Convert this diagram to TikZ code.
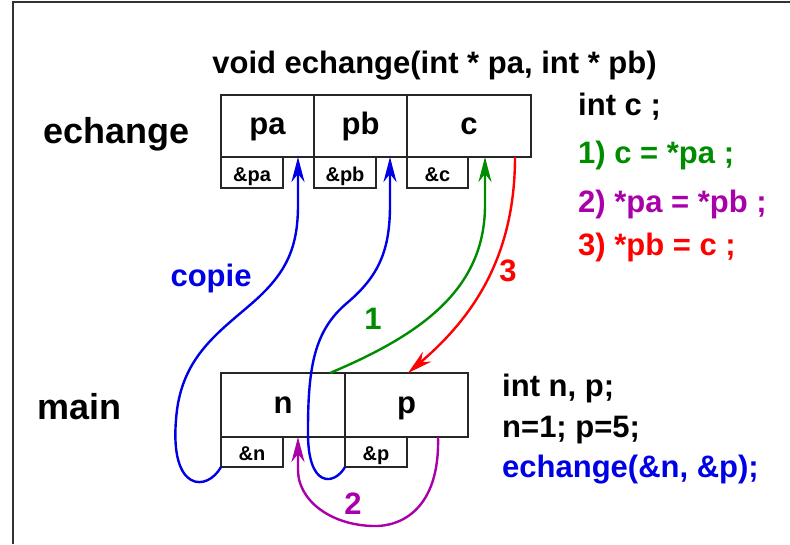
\documentclass[tikz,border=0pt]{standalone}
\usepackage{fontspec}
\setmainfont{Liberation Sans}
\usetikzlibrary{arrows.meta,calc}
\definecolor{cblue}{RGB}{0,0,230}
\definecolor{cgreen}{RGB}{0,140,0}
\definecolor{cpurple}{RGB}{170,0,170}
\definecolor{cred}{RGB}{255,0,0}
\definecolor{cframe}{RGB}{50,50,50}
\begin{document}
\begin{tikzpicture}[x=1pt,y=1pt,
  big/.style={draw=black!85, line width=1.1pt, inner sep=0pt, outer sep=0pt,
    minimum height=62pt, text height=22pt, text depth=6pt,
    font=\fontsize{31}{36}\selectfont\bfseries},
  small/.style={draw=black!85, line width=1.1pt, inner sep=0pt, outer sep=0pt,
    minimum height=31pt, minimum width=62pt, text height=20pt, text depth=3pt,
    font=\fontsize{20}{24}\selectfont\bfseries},
  code/.style={anchor=base west, inner sep=0pt, font=\fontsize{31}{36}\selectfont\bfseries},
  lbl/.style={anchor=base west, inner sep=0pt, font=\fontsize{36}{40}\selectfont\bfseries},
  tag/.style={anchor=base, inner sep=0pt, font=\fontsize{31}{36}\selectfont\bfseries},
  conn/.style={line width=2.4pt, -{Stealth[length=25pt,width=13pt,inset=8pt]}},
]
\useasboundingbox (0,0) rectangle (790,-544);
\draw[line width=1.2pt, cframe] (790,-2) -- (13,-2) -- (13,-544);

% echange frame
\node[big, minimum width=93pt] (pa) at (267.5,-126) {pa};
\node[big, minimum width=93pt] (pb) at (360.5,-126) {pb};
\node[big, minimum width=124pt] (c) at (469,-126) {c};
\node[small] (apa) at (252,-172.5) {\&pa};
\node[small] (apb) at (345,-172.5) {\&pb};
\node[small, minimum width=61pt] (ac) at (437.5,-172.5) {\&c};

% main frame
\node[big, minimum width=124pt, minimum height=64pt] (n) at (283,-405) {n};
\node[big, minimum width=123pt, minimum height=64pt] (p) at (406.5,-405) {p};
\node[small, minimum height=30pt] (an) at (252,-452) {\&n};
\node[small, minimum height=30pt] (ap) at (376,-452) {\&p};

% texts
\node[tag] (sig) at (434.5,-73) {void echange(int * pa, int * pb)};
\node[lbl] (lech) at (43,-143) {echange};
\node[lbl] (lmain) at (37,-419) {main};
\node[code] (intc) at (578,-115) {int c ;};
\node[code, text=cgreen] (s1) at (578,-163) {1) c = *pa ;};
\node[code, text=cpurple] (s2) at (578,-212) {2) *pa = *pb ;};
\node[code, text=cred] (s3) at (578,-255) {3) *pb = c ;};
\node[code] (m1) at (502,-396) {int n, p;};
\node[code] (m2) at (502,-437) {n=1; p=5;};
\node[code, text=cblue] (m3) at (502,-477) {echange(\&n, \&p);};

% connector ends
\coordinate (tpa) at ($(pa.south east)+(-16,0)$);
\coordinate (tpb) at ($(pb.south east)+(-17,0)$);
\coordinate (tc) at ($(c.south)+(16,0)$);
\coordinate (sc) at ($(c.south east)+(-16,0)$);
\coordinate (sn) at ($(n.north)+(47,0)$);
\coordinate (tp) at ($(p.north)+(1.5,0)$);
\coordinate (sp) at ($(p.south)+(31.5,0)$);
\coordinate (tn) at ($(n.south)+(15,0)$);

% connectors
\draw[conn, cblue] (an.south west) .. controls (207,-492) and (170,-492) .. (176,-420)
  .. controls (180,-360) and (215,-335) .. (250,-305)
  .. controls (285,-275) and (298,-250) .. (298,-205) -- (tpa);
\draw[conn, cblue] (ap.south west) .. controls (335,-485) and (307,-490) .. (308,-430)
  .. controls (308,-365) and (315,-330) .. (347,-303)
  .. controls (379,-276) and (390,-250) .. (390,-205) -- (tpb);
\draw[conn, cgreen] (sn) .. controls (420,-335) and (485,-290) .. (485,-205) -- (tc);
\draw[conn, cred] (sc) .. controls (515,-260) and (470,-320) .. (tp);
\draw[conn, cpurple] (sp) .. controls (440,-510) and (400,-527) .. (373,-526)
  .. controls (330,-525) and (298,-500) .. (298,-470) -- (tn);

% connector labels
\node[tag, text=cblue] (lcopie) at (211,-286) {copie};
\node[tag, text=cgreen] (l1) at (373,-329) {1};
\node[tag, text=cred] (l3) at (508,-281) {3};
\node[tag, text=cpurple] (l2) at (353,-514) {2};
\end{tikzpicture}
\end{document}
